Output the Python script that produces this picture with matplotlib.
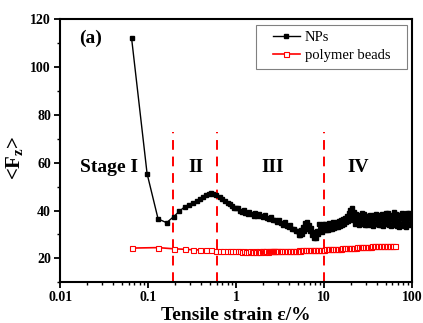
import matplotlib
matplotlib.use("Agg")
import matplotlib.pyplot as plt
from matplotlib.patches import Rectangle

plt.rcParams["font.family"] = ["Liberation Serif", "DejaVu Serif"]
plt.rcParams["mathtext.fontset"] = "custom"
plt.rcParams["mathtext.rm"] = "Liberation Serif:bold"
plt.rcParams["mathtext.it"] = "Liberation Serif:bold"

# --- NPs series ---
nps_x = [
    0.065, 0.0975, 0.13, 0.1625, 0.195, 0.2275, 0.26, 0.2925, 0.325, 0.3575,
    0.39, 0.4225, 0.455, 0.4875, 0.52, 0.5525, 0.585,
    0.65, 0.7, 0.75, 0.8, 0.85, 0.9, 0.95, 1.0,
    1.05, 1.1, 1.16, 1.22, 1.28, 1.35, 1.42, 1.5, 1.58, 1.66, 1.75, 1.84, 1.94, 2.04,
    2.15, 2.26, 2.38, 2.5, 2.63, 2.77, 2.91, 3.06, 3.22, 3.39, 3.57, 3.75, 3.95,
    4.15, 4.37, 4.6, 4.84,
    5.00, 5.13, 5.26, 5.40, 5.54, 5.68, 5.83, 5.98, 6.14, 6.30, 6.46, 6.63, 6.80, 6.98,
    7.16, 7.35, 7.54, 7.73, 7.93, 8.14, 8.35, 8.57, 8.79, 9.02, 9.25, 9.49, 9.74, 9.99,
    10.25, 10.52, 10.79, 11.07, 11.36, 11.66, 11.96, 12.27, 12.59, 12.92, 13.25, 13.60,
    13.95, 14.31, 14.68, 15.07, 15.46, 15.86, 16.27, 16.70, 17.13, 17.58, 18.03, 18.50,
    18.98, 19.48, 19.98,
    20.50, 21.04, 21.58, 22.15, 22.72, 23.31, 23.92, 24.54, 25.18, 25.84, 26.51, 27.20,
    27.91, 28.63, 29.38, 30.14, 30.93, 31.73, 32.56, 33.40, 34.27, 35.16, 36.08, 37.02,
    37.98, 38.97, 39.98,
    41.02, 42.09, 43.19, 44.31, 45.46, 46.64, 47.86, 49.10, 50.38, 51.69, 53.04, 54.42,
    55.83, 57.28, 58.77, 60.30, 61.87, 63.48, 65.13, 66.82, 68.56, 70.34, 72.17, 74.05,
    75.97, 77.95, 79.97, 82.05, 84.19, 86.38, 88.62, 90.93, 93.29, 95.72, 98.21,
]
nps_y = [
    112.0, 55.4, 36.5, 34.9, 37.4, 39.7, 41.5, 42.5, 43.3, 44.0,
    44.8, 45.6, 46.5, 47.0, 47.2, 46.8, 46.3,
    45.5, 44.8, 43.9, 43.0, 42.6, 41.8, 41.2, 40.9,
    40.9, 39.9, 39.5, 40.1, 39.0, 38.4, 39.5, 38.5, 37.9, 38.8, 37.6, 38.6, 37.7, 37.2,
    38.0, 36.9, 36.4, 37.4, 36.2, 36.2, 35.0, 35.9, 34.6, 34.1, 35.1, 33.6, 33.0,
    33.8, 32.3, 32.2, 31.4,
    31.5, 29.8, 31.2, 29.6, 31.8, 30.2, 33.0, 31.4, 34.6, 32.4, 35.2, 32.8, 34.0, 31.6,
    32.6, 29.8, 31.0, 28.6, 30.4, 28.4, 31.6, 30.0, 34.2, 31.8, 33.6, 31.2, 34.4, 32.0,
    34.2, 31.8, 33.8, 32.0, 34.6, 32.4, 34.0, 32.2, 35.0, 32.8, 34.8, 33.0,
    35.4, 33.2, 35.8, 33.6, 36.0, 34.0, 36.4, 34.2, 37.0, 35.0, 37.8, 35.8,
    38.8, 36.6, 40.2,
    38.0, 41.0, 36.0, 39.2, 34.2, 38.6, 34.8, 38.2, 34.0, 37.8, 34.4, 39.0,
    34.6, 38.4, 33.8, 37.8, 34.0, 37.6, 34.2, 38.2, 33.8, 37.4, 33.6, 38.0,
    34.4, 38.4, 34.2,
    38.0, 33.8, 37.8, 34.0, 38.4, 33.4, 37.6, 34.2, 39.0, 34.6, 38.8, 33.8,
    37.8, 33.4, 38.2, 34.0, 39.2, 34.6, 38.4, 33.6, 38.0, 33.2, 38.0, 34.2,
    39.0, 34.0, 38.6, 33.4, 37.6, 33.0, 38.8, 34.2, 39.0, 33.8, 37.8,
]

# --- polymer beads series ---
beads_x = [
    0.065, 0.13, 0.195, 0.26, 0.325, 0.39, 0.455, 0.52, 0.585, 0.65, 0.715, 0.78,
    0.845, 0.91, 0.975,
    1.04, 1.11, 1.17, 1.24, 1.3, 1.37, 1.43, 1.5, 1.56, 1.63, 1.69, 1.76, 1.82, 1.89,
    1.95, 2.02, 2.08, 2.15, 2.21, 2.28, 2.34, 2.41, 2.47, 2.54, 2.6, 2.67, 2.73, 2.8,
    2.86, 2.93,
    3.00, 3.12, 3.24, 3.37, 3.51, 3.65, 3.80, 3.95, 4.11, 4.27, 4.44, 4.62, 4.80, 5.00,
    5.20, 5.40, 5.62, 5.84, 6.08, 6.32, 6.57, 6.84, 7.11, 7.40, 7.69, 8.00, 8.32, 8.65,
    9.00, 9.36, 9.73,
    10.1, 10.5, 11.0, 11.4, 11.9, 12.3, 12.8, 13.3, 13.9, 14.4, 15.0, 15.6, 16.2, 16.9,
    17.5, 18.2, 19.0, 19.7,
    20.5, 21.3, 22.2, 23.1, 24.0, 25.0, 26.0, 27.0, 28.1, 29.2, 30.4, 31.6, 32.9, 34.2,
    35.5, 37.0, 38.4, 40.0,
    41.6, 43.2, 45.0, 46.8, 48.6, 50.6, 52.6, 54.7, 56.9, 59.2, 61.5, 63.5,
]
beads_y = [
    24.3, 24.5, 24.0, 23.8, 23.6, 23.5, 23.4, 23.3, 23.2, 23.1, 23.1, 23.0,
    23.0, 23.0, 22.9,
    22.9, 22.9, 22.8, 22.9, 22.8, 22.8, 22.9, 22.8, 22.8, 22.9, 22.8, 22.8, 22.9, 22.8,
    22.9, 22.9, 22.8, 22.9, 22.9, 22.8, 22.9, 22.9, 22.9, 23.0, 22.9, 22.9, 23.0, 22.9,
    23.0, 23.0,
    23.0, 23.0, 23.0, 23.1, 23.0, 23.1, 23.1, 23.1, 23.1, 23.2, 23.1, 23.2, 23.2, 23.2,
    23.3, 23.2, 23.3, 23.3, 23.3, 23.4, 23.4, 23.4, 23.4, 23.5, 23.5, 23.5, 23.6, 23.6,
    23.6, 23.7, 23.7,
    23.7, 23.8, 23.8, 23.8, 23.9, 23.9, 23.9, 24.0, 24.0, 24.0, 24.1, 24.1, 24.2, 24.2,
    24.2, 24.3, 24.3, 24.4,
    24.4, 24.4, 24.5, 24.5, 24.6, 24.6, 24.6, 24.7, 24.7, 24.8, 24.8, 24.8, 24.9, 24.9,
    25.0, 25.0, 25.0, 25.1,
    25.1, 25.1, 25.1, 25.2, 25.2, 25.2, 25.2, 25.3, 25.3, 25.3, 25.3, 25.3,
]

stage_bounds = [0.19, 0.6, 10]
stage_labels = ["Stage I", "II", "III", "IV"]
stage_label_x = [0.0168, 0.35, 2.6, 24.5]

fig = plt.figure(figsize=(4.23, 3.23), dpi=100)
ax = fig.add_axes([0.142, 0.126, 0.832, 0.815])

ax.plot(nps_x, nps_y, color="black", lw=1.0, marker="s", ms=3.2,
        mfc="black", mec="black", label="NPs", zorder=3)
ax.plot(beads_x, beads_y, color="red", lw=1.2, marker="s", ms=3.6,
        mfc="white", mec="red", mew=0.8, label="polymer beads", zorder=3)

for xb in stage_bounds:
    ax.plot([xb, xb], [10, 73], color="red", lw=1.4, ls=(0, (5, 3.5)), zorder=2)

ax.text(stage_label_x[0], 58, stage_labels[0], fontsize=14, fontweight="bold",
        ha="left", va="center")
for lbl, xl in zip(stage_labels[1:], stage_label_x[1:]):
    ax.text(xl, 58, lbl, fontsize=14, fontweight="bold", ha="center", va="center")
ax.text(0.0163, 112, "(a)", fontsize=14, fontweight="bold", ha="left", va="center")

ax.set_xscale("log")
ax.set_xlim(0.01, 100)
ax.set_ylim(10, 120)
ax.set_yticks([20, 40, 60, 80, 100, 120])
ax.set_yticks([10, 30, 50, 70, 90, 110], minor=True)
ax.set_xticks([0.01, 0.1, 1, 10, 100])
ax.set_xticklabels(["0.01", "0.1", "1", "10", "100"])

for sp in ax.spines.values():
    sp.set_linewidth(1.5)
ax.tick_params(which="major", direction="out", length=4, width=1.3, labelsize=10, pad=2.5)
ax.tick_params(which="minor", direction="out", length=2.5, width=1.0)
for t in ax.get_xticklabels() + ax.get_yticklabels():
    t.set_fontweight("bold")

ax.set_xlabel("Tensile strain ε/%", fontsize=14, fontweight="bold")
ax.xaxis.set_label_coords(0.5, -0.095)
ax.set_ylabel(r"<F$_\mathrm{z}$>", fontsize=15, fontweight="bold")
ax.yaxis.set_label_coords(-0.1, 0.474)

# legend: frame drawn separately (wide side padding in the original)
ax.add_patch(Rectangle((0.557, 0.810), 0.429, 0.167, transform=ax.transAxes,
                       facecolor="white", edgecolor="gray", lw=0.8, zorder=4))
leg = ax.legend(loc="upper left", bbox_to_anchor=(0.604, 0.955), fontsize=10.5,
                frameon=False, handlelength=1.9, borderpad=0, borderaxespad=0,
                labelspacing=0.3, handletextpad=0.3)
leg.set_zorder(5)

fig.savefig("out.png", dpi=100)
